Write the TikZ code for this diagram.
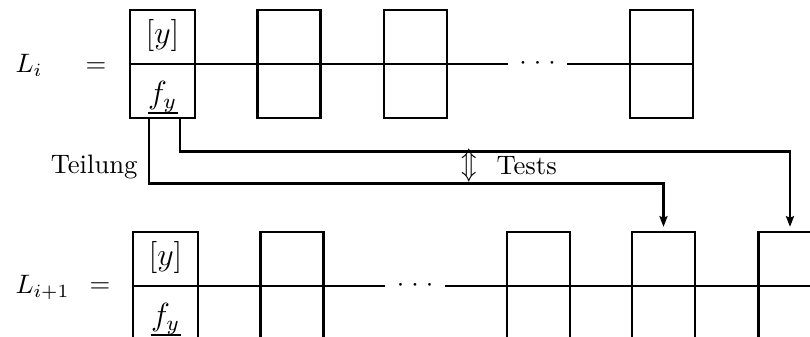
\documentclass[tikz,border=0pt]{standalone}
\usetikzlibrary{arrows.meta}
\begin{document}
\begin{tikzpicture}[x=0.375pt,y=-0.375pt,
  cell/.style={draw,line width=1.05pt,minimum width=23.6pt,minimum height=40.5pt,inner sep=0pt},
  wide/.style={minimum width=24.4pt},
  link/.style={line width=0.42pt},
  conn/.style={line width=0.85pt,-{Stealth[length=4pt,width=3pt,inset=0.6pt]},shorten >=1.4pt},
  txt/.style={inner sep=0pt},
  entry/.style={inner sep=0pt,font=\fontsize{12}{14}\selectfont},
  dotsnode/.style={inner ysep=0pt,inner xsep=4.2pt,anchor=mid},
  ul/.style={line width=0.75pt}
]
\path[fill=white,use as bounding box] (0,0) rectangle (810,337);
\clip (0,0) rectangle (810,337);

% upper list L_i
\node[cell,wide] (t1) at (162.5,64) {};
\node[cell] (t2) at (289,64) {};
\node[cell] (t3) at (415.5,64) {};
\node[cell] (t4) at (661.5,64) {};
\node[dotsnode] (td) at (537.5,64) {$\cdot$\kern2.66pt$\cdot$\kern2.66pt$\cdot$};

% lower list L_{i+1}
\node[cell,wide] (b1) at (165.5,286) {};
\node[cell] (b2) at (292,286) {};
\node[cell] (b3) at (538.5,286) {};
\node[cell] (b4) at (663.5,286) {};
\node[cell] (b5) at (790,286) {};
\node[dotsnode] (bd) at (415,286) {$\cdot$\kern2.66pt$\cdot$\kern2.66pt$\cdot$};

% middle dividers of the cells
\foreach \n in {t1,t2,t3,t4,b1,b2,b3,b4,b5}
  \draw[line width=1.05pt] (\n.west) -- (\n.east);

% links between cells
\draw[link] (t1.east) -- (t2.west);
\draw[link] (t2.east) -- (t3.west);
\draw[link] (t3.east) -- (td.mid west);
\draw[link] (td.mid east) -- (t4.west);
\draw[link] (b1.east) -- (b2.west);
\draw[link] (b2.east) -- (bd.mid west);
\draw[link] (bd.mid east) -- (b3.west);
\draw[link] (b3.east) -- (b4.west);
\draw[link] (b4.east) -- (b5.west);

% cell contents
\node[entry] (ty) at ([shift={(0,-28)}]t1.center) {$[y]$};
\node[entry,anchor=base] (tf) at ([shift={(0,40)}]t1.center) {$f_y$};
\draw[ul] ([shift={(-14.5,9)}]tf.base) -- ([shift={(15.5,9)}]tf.base);
\node[entry] (by) at ([shift={(0,-28)}]b1.center) {$[y]$};
\node[entry,anchor=base] (bf) at ([shift={(0,40)}]b1.center) {$f_y$};
\draw[ul] ([shift={(-14.5,9)}]bf.base) -- ([shift={(15.5,9)}]bf.base);

% list names
\node[txt,anchor=base west] (li) at (15,73) {$L_i$};
\node[txt,anchor=base] (eqa) at (96,73) {$=$};
\node[txt,anchor=base west] (lj) at (15,294) {$L_{i+1}$};
\node[txt,anchor=base] (eqb) at (100,293) {$=$};

% connectors
\draw[conn] ([shift={(-13.5,0)}]t1.south) -- ++(0,64) -| (b4.north);
\draw[conn] ([shift={(17.5,0)}]t1.south) -- ++(0,32) -| (b5.north);

% labels
\node[txt,anchor=base east] (teil) at (138,174) {Teilung};
\node[txt] (ud) at (469.5,166) {\scalebox{0.95}[1.2]{$\Updownarrow$}};
\node[txt,anchor=base west] (tests) at (496,175) {Tests};
\end{tikzpicture}
\end{document}
